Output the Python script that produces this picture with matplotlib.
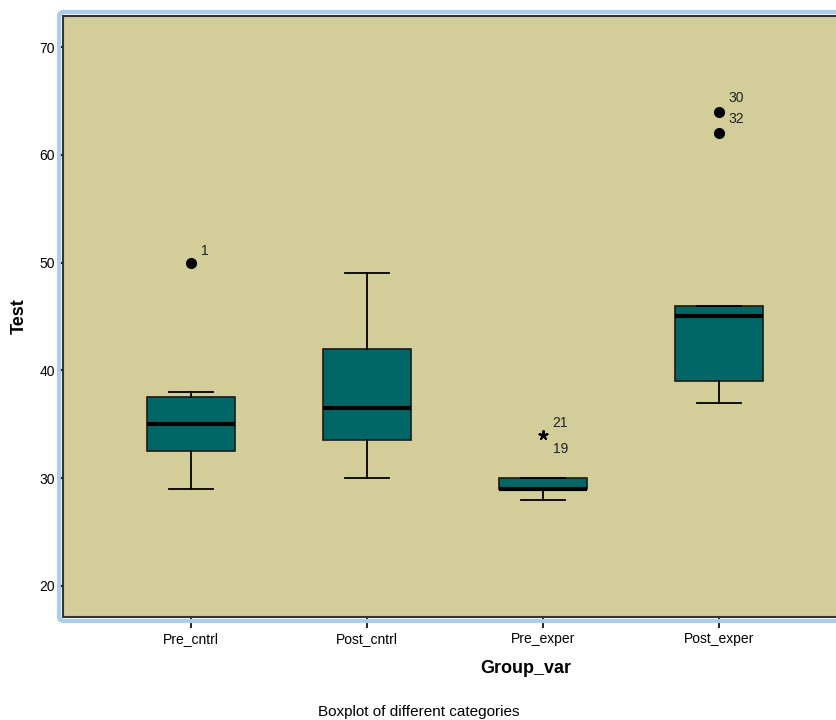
import matplotlib.pyplot as plt
from matplotlib.patches import FancyBboxPatch

# data
groups = ["Pre_cntrl", "Post_cntrl", "Pre_exper", "Post_exper"]
whislo = [29, 30, 28, 37]
q1 = [32.5, 33.5, 29, 39]
med = [35, 36.5, 29, 45]
q3 = [37.5, 42, 30, 46]
whishi = [38, 49, 30, 46]

# outliers: group index, value, case label, kind ("o" = outlier, "*" = extreme)
out_group = [0, 2, 2, 3, 3]
out_value = [50, 34, 34, 64, 62]
out_case = ["1", "21", "19", "30", "32"]
out_kind = ["o", "*", "*", "o", "o"]

yticks = [20, 30, 40, 50, 60, 70]

fig = plt.figure(figsize=(8.37, 7.2), dpi=100)
ax = fig.add_axes([63 / 837, 1 - 617 / 720, 1.18 - 63 / 837, (617 - 16) / 720])
ax.set_facecolor("#D3CD99")

stats = []
for i in range(len(groups)):
    stats.append(dict(whislo=whislo[i], q1=q1[i], med=med[i], q3=q3[i],
                      whishi=whishi[i], fliers=[]))

ax.bxp(stats, positions=range(len(groups)), widths=0.505, patch_artist=True,
       showfliers=False,
       boxprops=dict(facecolor="#006666", edgecolor="#1a1a1a", linewidth=1.2),
       medianprops=dict(color="black", linewidth=3),
       whiskerprops=dict(color="black", linewidth=1.3),
       capprops=dict(color="black", linewidth=1.3),
       capwidths=0.25)

# outlier points with case labels
for g, v, c, k in zip(out_group, out_value, out_case, out_kind):
    if k == "o":
        ax.plot(g, v, "o", color="black", markersize=7, zorder=5)
    else:
        ax.plot(g, v, marker=(5, 2, 0), color="black", markersize=7,
                markeredgewidth=1.3, zorder=5)
for g, v, c, k in zip(out_group, out_value, out_case, out_kind):
    if k == "*":
        dy = 9 if c == "21" else -10
    elif c in ("30", "32"):
        dy = 10
    else:
        dy = 8
    ax.annotate(c, (g, v), xytext=(7, dy), textcoords="offset points",
                ha="left", va="center", fontsize=10, color="#222222",
                family="Liberation Sans")

ax.set_xlim(-0.727, 0 + (1.18 * 837 - 191) / 176)
ax.set_ylim(17.12, 72.88)
ax.set_yticks(yticks)
ax.set_xticks(range(len(groups)))
ax.set_xticklabels(groups, family="Liberation Sans", fontsize=10)
for lab in ax.get_yticklabels():
    lab.set_family("Liberation Sans")
    lab.set_fontsize(10)
ax.tick_params(axis="y", length=4, width=1.5, pad=2)
ax.tick_params(axis="x", length=8, width=1.2, pad=3)

for s in ax.spines.values():
    s.set_color("#333333")
    s.set_linewidth(1.5)

ax.set_ylabel("Test", fontsize=13, fontweight="bold", family="Liberation Sans",
              labelpad=8)
ax.set_xlabel("Group_var", fontsize=13, fontweight="bold", family="Liberation Sans",
              labelpad=10)

# light blue chart frame (SPSS style)
frame = FancyBboxPatch((59 / 837, 1 - 621 / 720), 1.2, (621 - 12) / 720,
                       boxstyle="round,pad=0,rounding_size=0.006",
                       transform=fig.transFigure, fill=False,
                       edgecolor="#A9CDEB", linewidth=3, zorder=0)
fig.patches.append(frame)

fig.text(419 / 837, 1 - 712 / 720, "Boxplot of different categories",
         ha="center", va="center", fontsize=11, family="Liberation Sans")

fig.savefig("out.png", dpi=100)
